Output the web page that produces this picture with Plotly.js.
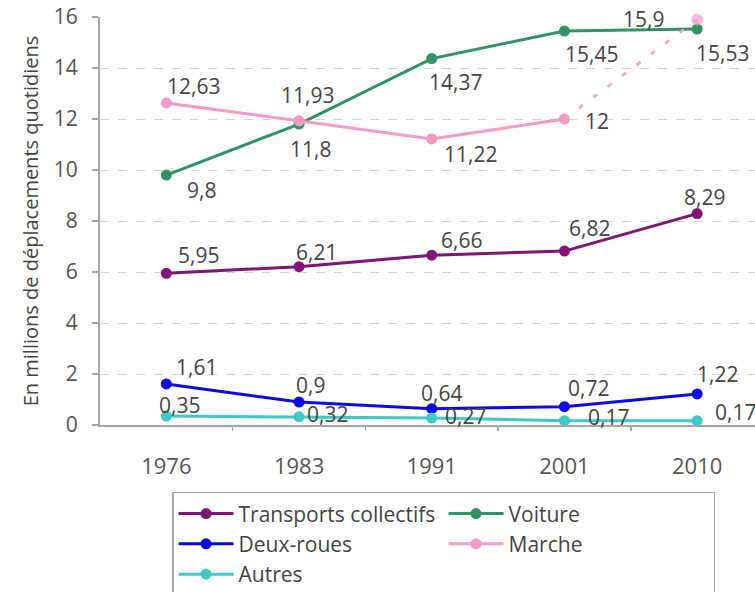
<!DOCTYPE html>
<html><head><meta charset="utf-8">
<script src="https://cdn.plot.ly/plotly-3.0.1.min.js"></script>
<style>body{margin:0;background:#fff}#c{width:755px;height:592px}</style>
</head><body><div id="c"></div>
<script>
const years = ['1976','1983','1991','2001','2010'];
const transports = [5.95, 6.21, 6.66, 6.82, 8.29];
const voiture = [9.8, 11.8, 14.37, 15.45, 15.53];
const deuxRoues = [1.61, 0.9, 0.64, 0.72, 1.22];
const marche = [12.63, 11.93, 11.22, 12, 15.9];
const autres = [0.35, 0.32, 0.27, 0.17, 0.17];
const yTicks = [0, 2, 4, 6, 8, 10, 12, 14, 16];

// label offsets in pixels (style only): [dx, dy] with dy positive = down
const shiftTC = [[32,-18],[17,-15],[30,-15],[25,-23],[7,-17]];
const shiftVo = [[35,15],[11,25],[24,23],[27,23],[25,24]];
const shiftMa = [[27,-17],[8,-26],[39,15],[33,2],[-54,-1]];
const shiftDR = [[30,-17],[11,-17],[10,-16],[24,-19],[20,-20]];
const shiftAu = [[13,-11],[28,-3],[34,-2],[44,-4],[38,-9]];

const fmt = v => String(v).replace('.', ',');
const idx = years.map((_, i) => i);
const FONT = 'Open Sans, sans-serif';

const C = {tc: '#7e1577', vo: '#2e9466', dr: '#0a0ae6', ma: '#f59ac6', au: '#3ec9c6'};

function series(name, vals, color, extra) {
  return Object.assign({
    type: 'scatter', mode: 'lines+markers', name: name,
    x: idx, y: vals, cliponaxis: false,
    line: {color: color, width: 3}, marker: {color: color, size: 11}
  }, extra || {});
}

const n = marche.length;
const traces = [
  series('Transports collectifs', transports, C.tc),
  series('Voiture', voiture, C.vo),
  series('Deux-roues', deuxRoues, C.dr),
  series('Marche', marche.slice(0, n - 1), C.ma, {x: idx.slice(0, n - 1)}),
  series('Autres', autres, C.au),
  {
    type: 'scatter', mode: 'lines+markers', showlegend: false, hoverinfo: 'skip',
    x: idx.slice(n - 2), y: marche.slice(n - 2), cliponaxis: false,
    line: {color: '#f7a8cf', width: 3, dash: '5px,13px'},
    marker: {color: C.ma, size: [0, 11]}
  },
  {type: 'scatter', x: [0], y: [0], xaxis: 'x2', mode: 'markers',
   marker: {opacity: 0}, showlegend: false, hoverinfo: 'skip'}
];

const annotations = [];
function addLabels(vals, shifts) {
  vals.forEach((v, i) => {
    annotations.push({
      x: i, y: v, xref: 'x', yref: 'y', text: fmt(v), showarrow: false,
      xanchor: 'center', yanchor: 'middle',
      xshift: shifts[i][0], yshift: -shifts[i][1],
      font: {family: FONT, size: 21, color: '#454545'}
    });
  });
}
addLabels(transports, shiftTC);
addLabels(voiture, shiftVo);
addLabels(marche, shiftMa);
addLabels(deuxRoues, shiftDR);
addLabels(autres, shiftAu);

const layout = {
  width: 755, height: 592,
  margin: {l: 100, r: 0, t: 17, b: 167, autoexpand: false},
  paper_bgcolor: '#fff', plot_bgcolor: '#fff',
  font: {family: FONT, color: '#555'},
  showlegend: true,
  annotations: annotations,
  xaxis: {
    range: [-0.5, 4.436], tickvals: idx, ticktext: years,
    ticks: '', showgrid: false, zeroline: false,
    showline: true, linecolor: '#a6a6a6', linewidth: 2,
    tickfont: {size: 22, color: '#555'}, ticklabelstandoff: 21
  },
  xaxis2: {
    overlaying: 'x', range: [-0.5, 4.436], anchor: 'y',
    tickvals: [0.5, 1.5, 2.5, 3.5], ticks: 'outside', ticklen: 5,
    tickcolor: '#a6a6a6', tickwidth: 1.5, showticklabels: false,
    showgrid: false, zeroline: false, showline: false
  },
  yaxis: {
    range: [0, 16], tickvals: yTicks, ticks: 'outside', ticklen: 6,
    tickcolor: '#a6a6a6', tickwidth: 1.5,
    showline: true, linecolor: '#a6a6a6', linewidth: 2,
    showgrid: true, gridcolor: '#d4d4d4', griddash: 'dash', gridwidth: 1,
    zeroline: false, tickfont: {size: 21, color: '#555'}, ticklabelstandoff: 10,
    title: {text: 'En millions de déplacements quotidiens',
            font: {size: 20, color: '#444'}, standoff: 10}
  },
  legend: {
    orientation: 'h', x: 0.11, xanchor: 'left', y: -0.164, yanchor: 'top',
    bordercolor: '#a8a8a8', borderwidth: 1.5, bgcolor: '#fff',
    font: {size: 21, color: '#444'}, entrywidth: 200, itemwidth: 55,
    traceorder: 'normal'
  }
};

Plotly.newPlot('c', traces, layout, {displayModeBar: false, staticPlot: true});
</script></body></html>
